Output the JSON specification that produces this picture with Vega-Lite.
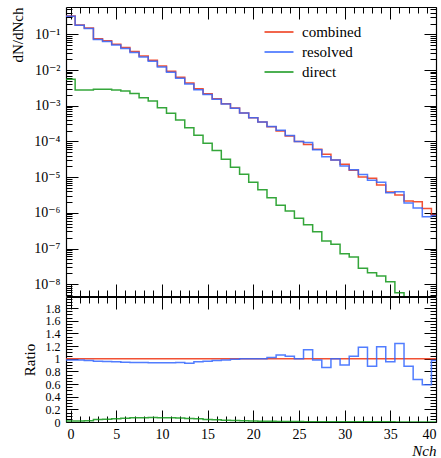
{
  "$schema": "https://vega.github.io/schema/vega-lite/v6.json",
  "padding": {"left": 10, "top": 6, "right": 3, "bottom": 2},
  "datasets": {
    "main": [
      {"edge": -0.5, "combined": 0.326, "resolved": 0.3195, "direct": 0.0055},
      {"edge": 0.5, "combined": 0.182, "resolved": 0.1784, "direct": 0.00275},
      {"edge": 1.5, "combined": 0.151, "resolved": 0.1465, "direct": 0.00275},
      {"edge": 2.5, "combined": 0.0748, "resolved": 0.0718, "direct": 0.00288},
      {"edge": 3.5, "combined": 0.0658, "resolved": 0.0628, "direct": 0.00288},
      {"edge": 4.5, "combined": 0.0525, "resolved": 0.0499, "direct": 0.00275},
      {"edge": 5.5, "combined": 0.0424, "resolved": 0.0401, "direct": 0.00257},
      {"edge": 6.5, "combined": 0.033, "resolved": 0.031, "direct": 0.00219},
      {"edge": 7.5, "combined": 0.0247, "resolved": 0.0232, "direct": 0.00166},
      {"edge": 8.5, "combined": 0.0187, "resolved": 0.01748, "direct": 0.00135},
      {"edge": 9.5, "combined": 0.01294, "resolved": 0.0121, "direct": 0.00087},
      {"edge": 10.5, "combined": 0.00925, "resolved": 0.00865, "direct": 0.00062},
      {"edge": 11.5, "combined": 0.00625, "resolved": 0.005875, "direct": 0.0004},
      {"edge": 12.5, "combined": 0.00433, "resolved": 0.004027, "direct": 0.00024},
      {"edge": 13.5, "combined": 0.00297, "resolved": 0.002822, "direct": 0.000148},
      {"edge": 14.5, "combined": 0.00215, "resolved": 0.002064, "direct": 0.000089},
      {"edge": 15.5, "combined": 0.00156, "resolved": 0.001513, "direct": 0.000056},
      {"edge": 16.5, "combined": 0.001138, "resolved": 0.001115, "direct": 0.0000316},
      {"edge": 17.5, "combined": 0.000863, "resolved": 0.000854, "direct": 0.000019},
      {"edge": 18.5, "combined": 0.000625, "resolved": 0.000625, "direct": 0.000012},
      {"edge": 19.5, "combined": 0.000458, "resolved": 0.000458, "direct": 0.0000072},
      {"edge": 20.5, "combined": 0.000349, "resolved": 0.000349, "direct": 0.0000044},
      {"edge": 21.5, "combined": 0.000256, "resolved": 0.000261, "direct": 0.00000263},
      {"edge": 22.5, "combined": 0.000195, "resolved": 0.0002067, "direct": 0.00000162},
      {"edge": 23.5, "combined": 0.0001416, "resolved": 0.0001473, "direct": 0.00000112},
      {"edge": 24.5, "combined": 0.0000993, "resolved": 0.0000993, "direct": 7.1e-7},
      {"edge": 25.5, "combined": 0.0000818, "resolved": 0.0000933, "direct": 4.6e-7},
      {"edge": 26.5, "combined": 0.0000601, "resolved": 0.0000589, "direct": 2.95e-7},
      {"edge": 27.5, "combined": 0.0000436, "resolved": 0.0000375, "direct": 1.62e-7},
      {"edge": 28.5, "combined": 0.0000301, "resolved": 0.0000301, "direct": 1.32e-7},
      {"edge": 29.5, "combined": 0.0000229, "resolved": 0.0000206, "direct": 7.1e-8},
      {"edge": 30.5, "combined": 0.0000155, "resolved": 0.0000161, "direct": 5.75e-8},
      {"edge": 31.5, "combined": 0.00001007, "resolved": 0.0000119, "direct": 2.82e-8},
      {"edge": 32.5, "combined": 0.00000925, "resolved": 0.00000814, "direct": 2.09e-8},
      {"edge": 33.5, "combined": 0.00000601, "resolved": 0.00000715, "direct": 1.7e-8},
      {"edge": 34.5, "combined": 0.00000383, "resolved": 0.00000364, "direct": 1.17e-8},
      {"edge": 35.5, "combined": 0.00000316, "resolved": 0.00000392, "direct": 5.75e-9},
      {"edge": 36.5, "combined": 0.00000214, "resolved": 0.00000188, "direct": 1e-9},
      {"edge": 37.5, "combined": 0.00000205, "resolved": 0.00000137, "direct": 1e-9},
      {"edge": 38.5, "combined": 0.00000132, "resolved": 7.8e-7, "direct": 1e-9},
      {"edge": 39.5, "combined": 8.7e-7, "resolved": 8.4e-7, "direct": 1e-9},
      {"edge": 40.5, "combined": 8.7e-7, "resolved": 8.4e-7, "direct": 1e-9}
    ],
    "ratio": [
      {"edge": -0.5, "combined": 1, "resolved": 0.98, "direct": 0.0169},
      {"edge": 0.5, "combined": 1, "resolved": 0.98, "direct": 0.0151},
      {"edge": 1.5, "combined": 1, "resolved": 0.97, "direct": 0.0182},
      {"edge": 2.5, "combined": 1, "resolved": 0.96, "direct": 0.0385},
      {"edge": 3.5, "combined": 1, "resolved": 0.955, "direct": 0.0438},
      {"edge": 4.5, "combined": 1, "resolved": 0.95, "direct": 0.0524},
      {"edge": 5.5, "combined": 1, "resolved": 0.945, "direct": 0.0606},
      {"edge": 6.5, "combined": 1, "resolved": 0.94, "direct": 0.0664},
      {"edge": 7.5, "combined": 1, "resolved": 0.94, "direct": 0.0672},
      {"edge": 8.5, "combined": 1, "resolved": 0.935, "direct": 0.0722},
      {"edge": 9.5, "combined": 1, "resolved": 0.935, "direct": 0.0672},
      {"edge": 10.5, "combined": 1, "resolved": 0.935, "direct": 0.067},
      {"edge": 11.5, "combined": 1, "resolved": 0.94, "direct": 0.064},
      {"edge": 12.5, "combined": 1, "resolved": 0.93, "direct": 0.0554},
      {"edge": 13.5, "combined": 1, "resolved": 0.95, "direct": 0.0498},
      {"edge": 14.5, "combined": 1, "resolved": 0.96, "direct": 0.0414},
      {"edge": 15.5, "combined": 1, "resolved": 0.97, "direct": 0.0359},
      {"edge": 16.5, "combined": 1, "resolved": 0.98, "direct": 0.0278},
      {"edge": 17.5, "combined": 1, "resolved": 0.99, "direct": 0.022},
      {"edge": 18.5, "combined": 1, "resolved": 1.0, "direct": 0.0192},
      {"edge": 19.5, "combined": 1, "resolved": 1.0, "direct": 0.0157},
      {"edge": 20.5, "combined": 1, "resolved": 1.0, "direct": 0.0126},
      {"edge": 21.5, "combined": 1, "resolved": 1.02, "direct": 0.0103},
      {"edge": 22.5, "combined": 1, "resolved": 1.06, "direct": 0.0083},
      {"edge": 23.5, "combined": 1, "resolved": 1.04, "direct": 0.0079},
      {"edge": 24.5, "combined": 1, "resolved": 1.0, "direct": 0.0072},
      {"edge": 25.5, "combined": 1, "resolved": 1.14, "direct": 0.0056},
      {"edge": 26.5, "combined": 1, "resolved": 0.98, "direct": 0.0049},
      {"edge": 27.5, "combined": 1, "resolved": 0.86, "direct": 0.0037},
      {"edge": 28.5, "combined": 1, "resolved": 1.0, "direct": 0.0044},
      {"edge": 29.5, "combined": 1, "resolved": 0.9, "direct": 0.0031},
      {"edge": 30.5, "combined": 1, "resolved": 1.04, "direct": 0.0037},
      {"edge": 31.5, "combined": 1, "resolved": 1.18, "direct": 0.0028},
      {"edge": 32.5, "combined": 1, "resolved": 0.88, "direct": 0.0023},
      {"edge": 33.5, "combined": 1, "resolved": 1.19, "direct": 0.0028},
      {"edge": 34.5, "combined": 1, "resolved": 0.95, "direct": 0.0031},
      {"edge": 35.5, "combined": 1, "resolved": 1.24, "direct": 0.0018},
      {"edge": 36.5, "combined": 1, "resolved": 0.88, "direct": 0.0005},
      {"edge": 37.5, "combined": 1, "resolved": 0.67, "direct": 0.0005},
      {"edge": 38.5, "combined": 1, "resolved": 0.59, "direct": 0.0005},
      {"edge": 39.5, "combined": 1, "resolved": 0.97, "direct": 0.0005},
      {"edge": 40.5, "combined": 1, "resolved": 0.97, "direct": 0.0005}
    ]
  },
  "vconcat": [
    {
      "width": 370,
      "height": 289,
      "data": {"name": "main"},
      "resolve": {"axis": {"x": "independent", "y": "independent"}},
      "layer": [
        {
          "transform": [{"fold": ["combined", "resolved", "direct"], "as": ["series", "value"]}],
          "mark": {"type": "line", "interpolate": "step-after", "clip": true, "strokeWidth": 1.5, "strokeOpacity": 0.85},
          "encoding": {
            "x": {"field": "edge", "type": "quantitative", "scale": {"domain": [-0.5, 40], "nice": false, "zero": false},
              "axis": {"orient": "bottom", "values": [0, 5, 10, 15, 20, 25, 30, 35, 40], "labels": false, "tickSize": -12, "title": null, "domain": true}},
            "y": {"field": "value", "type": "quantitative", "scale": {"type": "log", "domain": [4.68e-9, 0.582], "nice": false},
              "axis": {"orient": "left", "values": [1e-8, 1e-7, 1e-6, 1e-5, 1e-4, 0.001, 0.01, 0.1],
                "labelExpr": "'10' + ['⁰','⁻¹','⁻²','⁻³','⁻⁴','⁻⁵','⁻⁶','⁻⁷','⁻⁸','⁻⁹'][round(-log(datum.value)/LN10)]",
                "ticks": false, "tickSize": 0, "labelPadding": 6, "title": "dN/dNch", "titleAnchor": "end", "titlePadding": 8, "domain": true}},
            "color": {"field": "series", "type": "nominal",
              "scale": {"domain": ["combined", "resolved", "direct"], "range": ["#EE3311", "#3366FF", "#109618"]},
              "legend": {"orient": "none", "legendX": 205, "legendY": 17, "title": null, "symbolType": "M-2,0H2", "symbolSize": 210, "symbolStrokeWidth": 1.5, "labelFont": "Liberation Serif, DejaVu Serif, serif", "labelFontSize": 15, "labelColor": "#000", "labelOffset": 15, "rowPadding": 4, "padding": 0}}
          }
        },
        {
          "mark": {"type": "point", "opacity": 0},
          "encoding": {
            "x": {"field": "edge", "type": "quantitative",
              "axis": {"orient": "bottom", "values": [1,2,3,4,6,7,8,9,11,12,13,14,16,17,18,19,21,22,23,24,26,27,28,29,31,32,33,34,36,37,38,39], "labels": false, "tickSize": -6, "title": null, "domain": false}},
            "y": {"field": "combined", "type": "quantitative",
              "axis": {"orient": "left", "values": [1e-8, 1e-7, 1e-6, 1e-5, 1e-4, 0.001, 0.01, 0.1], "labels": false, "tickSize": -12, "title": null, "domain": false}}
          }
        },
        {
          "mark": {"type": "point", "opacity": 0},
          "encoding": {
            "x": {"field": "edge", "type": "quantitative",
              "axis": {"orient": "top", "values": [0, 5, 10, 15, 20, 25, 30, 35, 40], "labels": false, "tickSize": -12, "title": null, "domain": true}},
            "y": {"field": "combined", "type": "quantitative",
              "axis": {"orient": "left", "values": [5e-9,6e-9,7e-9,8e-9,9e-9,2e-8,3e-8,4e-8,5e-8,6e-8,7e-8,8e-8,9e-8,2e-7,3e-7,4e-7,5e-7,6e-7,7e-7,8e-7,9e-7,2e-6,3e-6,4e-6,5e-6,6e-6,7e-6,8e-6,9e-6,2e-5,3e-5,4e-5,5e-5,6e-5,7e-5,8e-5,9e-5,2e-4,3e-4,4e-4,5e-4,6e-4,7e-4,8e-4,9e-4,0.002,0.003,0.004,0.005,0.006,0.007,0.008,0.009,0.02,0.03,0.04,0.05,0.06,0.07,0.08,0.09,0.2,0.3,0.4,0.5], "labels": false, "tickSize": -6, "title": null, "domain": false}}
          }
        },
        {
          "mark": {"type": "point", "opacity": 0},
          "encoding": {
            "x": {"field": "edge", "type": "quantitative",
              "axis": {"orient": "top", "values": [1,2,3,4,6,7,8,9,11,12,13,14,16,17,18,19,21,22,23,24,26,27,28,29,31,32,33,34,36,37,38,39], "labels": false, "tickSize": -6, "title": null, "domain": false}},
            "y": {"field": "combined", "type": "quantitative",
              "axis": {"orient": "right", "values": [1e-8, 1e-7, 1e-6, 1e-5, 1e-4, 0.001, 0.01, 0.1], "labels": false, "tickSize": -12, "title": null, "domain": true}}
          }
        },
        {
          "mark": {"type": "point", "opacity": 0},
          "encoding": {
            "x": {"field": "edge", "type": "quantitative", "axis": null},
            "y": {"field": "combined", "type": "quantitative",
              "axis": {"orient": "right", "values": [5e-9,6e-9,7e-9,8e-9,9e-9,2e-8,3e-8,4e-8,5e-8,6e-8,7e-8,8e-8,9e-8,2e-7,3e-7,4e-7,5e-7,6e-7,7e-7,8e-7,9e-7,2e-6,3e-6,4e-6,5e-6,6e-6,7e-6,8e-6,9e-6,2e-5,3e-5,4e-5,5e-5,6e-5,7e-5,8e-5,9e-5,2e-4,3e-4,4e-4,5e-4,6e-4,7e-4,8e-4,9e-4,0.002,0.003,0.004,0.005,0.006,0.007,0.008,0.009,0.02,0.03,0.04,0.05,0.06,0.07,0.08,0.09,0.2,0.3,0.4,0.5], "labels": false, "tickSize": -6, "title": null, "domain": false}}
          }
        }
      ]
    },
    {
      "width": 370,
      "height": 125,
      "data": {"name": "ratio"},
      "resolve": {"axis": {"x": "independent", "y": "independent"}},
      "layer": [
        {
          "transform": [{"fold": ["combined", "resolved", "direct"], "as": ["series", "value"]}],
          "mark": {"type": "line", "interpolate": "step-after", "clip": true, "strokeWidth": 1.5, "strokeOpacity": 0.85},
          "encoding": {
            "x": {"field": "edge", "type": "quantitative", "scale": {"domain": [-0.5, 40], "nice": false, "zero": false},
              "axis": {"orient": "bottom", "values": [0, 5, 10, 15, 20, 25, 30, 35, 40], "ticks": false, "tickSize": 0, "labelPadding": 5, "title": "Nch", "titleAnchor": "end", "titleFontStyle": "italic", "titlePadding": 2, "domain": true}},
            "y": {"field": "value", "type": "quantitative", "scale": {"domain": [0, 1.975], "nice": false},
              "axis": {"orient": "left", "values": [0, 0.2, 0.4, 0.6, 0.8, 1, 1.2, 1.4, 1.6, 1.8], "format": "~g", "labelOverlap": false, "labelFontSize": 12, "ticks": false, "tickSize": 0, "labelPadding": 6, "title": "Ratio", "titlePadding": 8, "domain": true}},
            "color": {"field": "series", "type": "nominal",
              "scale": {"domain": ["combined", "resolved", "direct"], "range": ["#EE3311", "#3366FF", "#109618"]},
              "legend": null}
          }
        },
        {
          "mark": {"type": "point", "opacity": 0},
          "encoding": {
            "x": {"field": "edge", "type": "quantitative",
              "axis": {"orient": "bottom", "values": [0, 5, 10, 15, 20, 25, 30, 35, 40], "labels": false, "tickSize": -12, "title": null, "domain": false}},
            "y": {"field": "combined", "type": "quantitative",
              "axis": {"orient": "left", "values": [0, 0.2, 0.4, 0.6, 0.8, 1, 1.2, 1.4, 1.6, 1.8], "labels": false, "tickSize": -12, "title": null, "domain": false}}
          }
        },
        {
          "mark": {"type": "point", "opacity": 0},
          "encoding": {
            "x": {"field": "edge", "type": "quantitative",
              "axis": {"orient": "bottom", "values": [1,2,3,4,6,7,8,9,11,12,13,14,16,17,18,19,21,22,23,24,26,27,28,29,31,32,33,34,36,37,38,39], "labels": false, "tickSize": -6, "title": null, "domain": false}},
            "y": {"field": "combined", "type": "quantitative",
              "axis": {"orient": "left", "values": [0.05,0.1,0.15,0.25,0.3,0.35,0.45,0.5,0.55,0.65,0.7,0.75,0.85,0.9,0.95,1.05,1.1,1.15,1.25,1.3,1.35,1.45,1.5,1.55,1.65,1.7,1.75,1.85,1.9,1.95], "labels": false, "tickSize": -6, "title": null, "domain": false}}
          }
        },
        {
          "mark": {"type": "point", "opacity": 0},
          "encoding": {
            "x": {"field": "edge", "type": "quantitative",
              "axis": {"orient": "top", "values": [0, 5, 10, 15, 20, 25, 30, 35, 40], "labels": false, "tickSize": -12, "title": null, "domain": true}},
            "y": {"field": "combined", "type": "quantitative",
              "axis": {"orient": "right", "values": [0, 0.2, 0.4, 0.6, 0.8, 1, 1.2, 1.4, 1.6, 1.8], "labels": false, "tickSize": -12, "title": null, "domain": true}}
          }
        },
        {
          "mark": {"type": "point", "opacity": 0},
          "encoding": {
            "x": {"field": "edge", "type": "quantitative",
              "axis": {"orient": "top", "values": [1,2,3,4,6,7,8,9,11,12,13,14,16,17,18,19,21,22,23,24,26,27,28,29,31,32,33,34,36,37,38,39], "labels": false, "tickSize": -6, "title": null, "domain": false}},
            "y": {"field": "combined", "type": "quantitative",
              "axis": {"orient": "right", "values": [0.05,0.1,0.15,0.25,0.3,0.35,0.45,0.5,0.55,0.65,0.7,0.75,0.85,0.9,0.95,1.05,1.1,1.15,1.25,1.3,1.35,1.45,1.5,1.55,1.65,1.7,1.75,1.85,1.9,1.95], "labels": false, "tickSize": -6, "title": null, "domain": false}}
          }
        }
      ]
    }
  ],
  "spacing": 1,
  "bounds": "flush",
  "config": {
    "font": "Liberation Serif, DejaVu Serif, serif",
    "view": {"stroke": null},
    "legend": {"labelFont": "Liberation Serif, DejaVu Serif, serif"},
    "axis": {"grid": false, "domainColor": "#000", "tickColor": "#000", "domainWidth": 1.2, "tickWidth": 1,
      "labelFont": "Liberation Serif, DejaVu Serif, serif", "labelFontSize": 14, "labelColor": "#000",
      "titleFont": "Liberation Serif, DejaVu Serif, serif", "titleFontSize": 15, "titleFontWeight": "normal", "titleColor": "#000"}
  }
}
